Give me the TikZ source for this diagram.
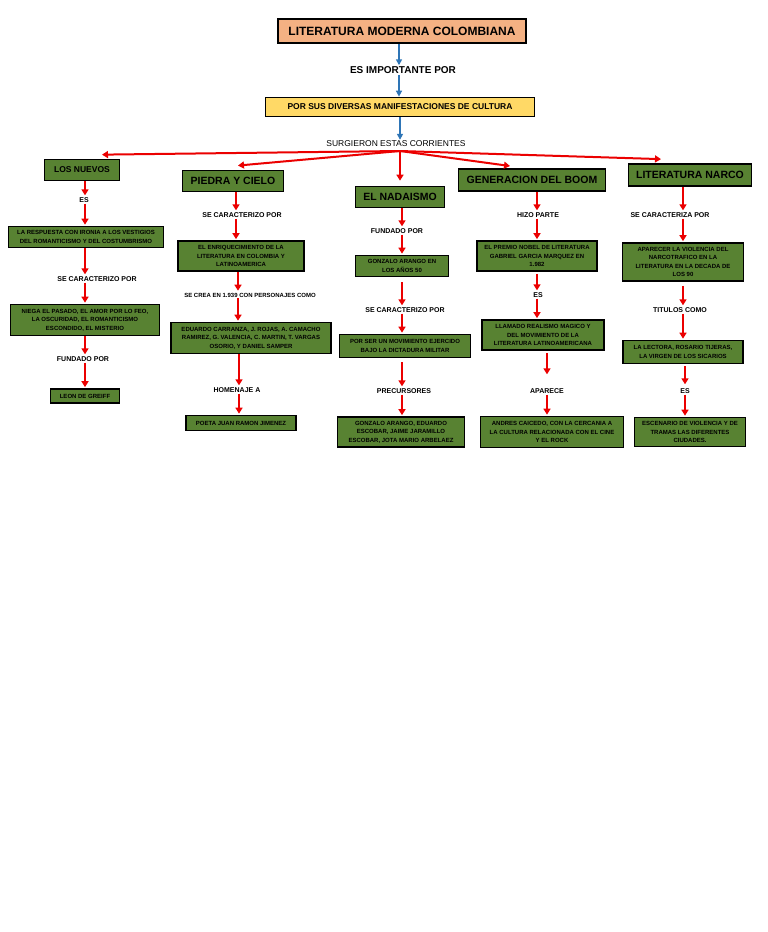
\documentclass[tikz,border=0pt]{standalone}
\usepackage{fontspec}
\setmainfont{Liberation Sans}
\usepackage{xcolor}
\usetikzlibrary{arrows.meta}

\definecolor{salmon}{RGB}{244,177,131}
\definecolor{amarillo}{RGB}{255,217,102}
\definecolor{verde}{RGB}{88,130,50}
\definecolor{azul}{RGB}{46,117,182}
\definecolor{rojo}{RGB}{235,0,0}

\tikzset{
  caja/.style={rectangle, draw=black, line width=1.7pt, inner sep=1pt, align=center},
  cajaverde/.style={caja, fill=verde, text=black, font=\fontsize{6}{8.5}\selectfont\bfseries},
  cabeza/.style={cajaverde, font=\fontsize{10.5}{12}\selectfont\bfseries},
  etiqueta/.style={inner sep=1pt, font=\fontsize{7}{8}\selectfont\bfseries},
  flecharoja/.style={draw=rojo, line width=2pt, -{Triangle[length=6pt,width=7pt]}, shorten >=1pt},
  flechaazul/.style={draw=azul, line width=1.6pt, -{Triangle[length=6pt,width=6pt]}},
}

\begin{document}
\begin{tikzpicture}[x=1pt,y=1pt]
\useasboundingbox (0,0) rectangle (768,-932);
\fill[white] (0,0) rectangle (768,-932);

% parte superior
\node[caja, fill=salmon, minimum width=248pt, minimum height=24pt,
      font=\fontsize{12}{14}\selectfont\bfseries] (titulo) at (402,-31)
      {LITERATURA MODERNA COLOMBIANA};
\node[etiqueta, font=\fontsize{10}{12}\selectfont\bfseries] (importante) at (403,-70) {ES IMPORTANTE POR};
\node[caja, fill=amarillo, minimum width=269pt, minimum height=19pt,
      font=\fontsize{8.5}{10}\selectfont\bfseries] (cultura) at (400,-107)
      {POR SUS DIVERSAS MANIFESTACIONES DE CULTURA};
\node[etiqueta, font=\fontsize{8.5}{10}\selectfont] (surgieron) at (396,-144) {SURGIERON ESTAS CORRIENTES};
\coordinate (centro) at (400,-151);

\draw[flechaazul] ([xshift=-3pt]titulo.south) -- ([xshift=-3pt]titulo.south |- importante.north);
\draw[flechaazul] ([xshift=-3pt]titulo.south |- importante.south) -- ([xshift=-3pt]titulo.south |- cultura.north);
\draw[flechaazul] (cultura.south) -- (cultura.south |- surgieron.north);

% corrientes
\node[cabeza, minimum width=75pt, minimum height=21pt, font=\fontsize{8.5}{10}\selectfont\bfseries] (nuevos) at (82,-170) {LOS NUEVOS};
\node[cabeza, minimum width=101pt, minimum height=21pt] (piedra) at (233,-181) {PIEDRA Y CIELO};
\node[cabeza, minimum width=89pt, minimum height=21pt] (nadaismo) at (400,-197) {EL NADAISMO};
\node[cabeza, minimum width=147pt, minimum height=22pt] (boom) at (532,-180) {GENERACION DEL BOOM};
\node[cabeza, minimum width=123pt, minimum height=22pt] (narco) at (690,-175) {LITERATURA NARCO};

\draw[flecharoja] (centro) -- ([xshift=19pt,yshift=4pt]nuevos.north);
\draw[flecharoja] (centro) -- ([xshift=4pt,yshift=4pt]piedra.north);
\draw[flecharoja] (centro) -- ([yshift=4pt]nadaismo.north);
\draw[flecharoja] (centro) -- ([xshift=-21pt,yshift=2pt]boom.north);
\draw[flecharoja] (centro) -- ([xshift=-28pt,yshift=4pt]narco.north);

% los nuevos
\node[etiqueta] (es1) at (84,-200) {ES};
\node[cajaverde, minimum width=155pt, minimum height=21pt] (respuesta) at (86,-237)
  {LA RESPUESTA CON IRONIA A LOS VESTIGIOS\\DEL ROMANTICISMO Y DEL COSTUMBRISMO};
\node[etiqueta] (caract1) at (97,-279) {SE CARACTERIZO POR};
\node[cajaverde, minimum width=149pt, minimum height=31pt] (niega) at (85,-320)
  {NIEGA EL PASADO, EL AMOR POR LO FEO,\\LA OSCURIDAD, EL ROMANTICISMO\\ESCONDIDO, EL MISTERIO};
\node[etiqueta] (fundado1) at (83,-359) {FUNDADO POR};
\node[cajaverde, minimum width=69pt, minimum height=14pt] (greiff) at (85,-396) {LEON DE GREIFF};

\draw[flecharoja] (greiff.north |- nuevos.south) -- (greiff.north |- es1.north);
\draw[flecharoja] (greiff.north |- es1.south) -- (greiff.north |- respuesta.north);
\draw[flecharoja] (greiff.north |- respuesta.south) -- (greiff.north |- caract1.north);
\draw[flecharoja] (greiff.north |- caract1.south) -- (greiff.north |- niega.north);
\draw[flecharoja] (greiff.north |- niega.south) -- (greiff.north |- fundado1.north);
\draw[flecharoja] (greiff.north |- fundado1.south) -- (greiff.north);

% piedra y cielo
\node[etiqueta] (caract2) at (242,-215) {SE CARACTERIZO POR};
\node[cajaverde, minimum width=126pt, minimum height=30pt] (enriquec) at (241,-256)
  {EL ENRIQUECIMIENTO DE LA\\LITERATURA EN COLOMBIA Y\\LATINOAMERICA};
\node[etiqueta, font=\fontsize{6}{7}\selectfont\bfseries] (crea) at (250,-295) {SE CREA EN 1.939 CON PERSONAJES COMO};
\node[cajaverde, minimum width=160pt, minimum height=31pt] (carranza) at (251,-338)
  {EDUARDO CARRANZA, J. ROJAS, A. CAMACHO\\RAMIREZ, G. VALENCIA, C. MARTIN, T. VARGAS\\OSORIO, Y DANIEL SAMPER};
\node[etiqueta] (homenaje) at (237,-390) {HOMENAJE A};
\node[cajaverde, minimum width=110pt, minimum height=15pt] (jimenez) at (241,-423) {POETA JUAN RAMON JIMENEZ};

\draw[flecharoja] ([xshift=3pt]piedra.south) -- ([xshift=3pt]piedra.south |- caract2.north);
\draw[flecharoja] ([xshift=3pt]piedra.south |- caract2.south) -- ([xshift=3pt]piedra.south |- enriquec.north);
\draw[flecharoja] ([xshift=-3pt]enriquec.south) -- ([xshift=-3pt]enriquec.south |- crea.north);
\draw[flecharoja] ([xshift=-3pt]enriquec.south |- crea.south) -- ([xshift=-3pt]enriquec.south |- carranza.north);
\draw[flecharoja] ([xshift=-12pt]carranza.south) -- ([xshift=-12pt]carranza.south |- homenaje.north);
\draw[flecharoja] ([xshift=-12pt]carranza.south |- homenaje.south) -- ([xshift=-12pt]carranza.south |- jimenez.north);

% el nadaismo
\node[etiqueta] (fundado3) at (397,-231) {FUNDADO POR};
\node[cajaverde, minimum width=93pt, minimum height=21pt] (gonzalo) at (402,-266)
  {GONZALO ARANGO EN\\LOS AÑOS 50};
\node[etiqueta] (caract3) at (405,-310) {SE CARACTERIZO POR};
\node[cajaverde, minimum width=131pt, minimum height=23pt] (dictadura) at (405,-346)
  {POR SER UN MOVIMIENTO EJERCIDO\\BAJO LA DICTADURA MILITAR};
\node[etiqueta] (precursores) at (404,-391) {PRECURSORES};
\node[cajaverde, minimum width=127pt, minimum height=30pt] (escobar) at (401,-432)
  {GONZALO ARANGO, EDUARDO\\ESCOBAR, JAIME JARAMILLO\\ESCOBAR, JOTA MARIO ARBELAEZ};

\draw[flecharoja] ([xshift=2pt]nadaismo.south) -- ([xshift=2pt]nadaismo.south |- fundado3.north);
\draw[flecharoja] ([xshift=2pt]nadaismo.south |- fundado3.south) -- ([xshift=2pt]nadaismo.south |- gonzalo.north);
\draw[flecharoja] ([yshift=-5pt]gonzalo.south) -- (gonzalo.south |- caract3.north);
\draw[flecharoja] (gonzalo.south |- caract3.south) -- (gonzalo.south |- dictadura.north);
\draw[flecharoja] ([yshift=-4pt]gonzalo.south |- dictadura.south) -- (gonzalo.south |- precursores.north);
\draw[flecharoja] (gonzalo.south |- precursores.south) -- (gonzalo.south |- escobar.north);

% generacion del boom
\node[etiqueta] (hizo) at (538,-215) {HIZO PARTE};
\node[cajaverde, minimum width=120pt, minimum height=30pt] (nobel) at (537,-256)
  {EL PREMIO NOBEL DE LITERATURA\\GABRIEL GARCIA MARQUEZ EN\\1.982};
\node[etiqueta] (es4) at (538,-295) {ES};
\node[cajaverde, minimum width=122pt, minimum height=30pt] (realismo) at (543,-335)
  {LLAMADO REALISMO MAGICO Y\\DEL MOVIMIENTO DE LA\\LITERATURA LATINOAMERICANA};
\node[etiqueta] (aparece) at (547,-391) {APARECE};
\node[cajaverde, minimum width=143pt, minimum height=31pt] (caicedo) at (552,-432)
  {ANDRES CAICEDO, CON LA CERCANIA A\\LA CULTURA RELACIONADA CON EL CINE\\Y EL ROCK};

\draw[flecharoja] (nobel.north |- boom.south) -- (nobel.north |- hizo.north);
\draw[flecharoja] (nobel.north |- hizo.south) -- (nobel.north);
\draw[flecharoja] ([yshift=-2pt]nobel.south) -- (nobel.south |- es4.north);
\draw[flecharoja] (nobel.south |- es4.south) -- (nobel.south |- realismo.north);
\draw[flecharoja] ([yshift=-2pt]aparece.north |- realismo.south) -- ([yshift=12pt]aparece.north);
\draw[flecharoja] (aparece.south) -- (aparece.south |- caicedo.north);

% literatura narco
\node[etiqueta] (caract5) at (670,-215) {SE CARACTERIZA POR};
\node[cajaverde, minimum width=121pt, minimum height=38pt] (violencia) at (683,-262)
  {APARECER LA VIOLENCIA DEL\\NARCOTRAFICO EN LA\\LITERATURA EN LA DECADA DE\\LOS 90};
\node[etiqueta] (titulos) at (680,-310) {TITULOS COMO};
\node[cajaverde, minimum width=120pt, minimum height=23pt] (lectora) at (683,-352)
  {LA LECTORA, ROSARIO TIJERAS,\\LA VIRGEN DE LOS SICARIOS};
\node[etiqueta] (es5) at (685,-391) {ES};
\node[cajaverde, minimum width=111pt, minimum height=29pt] (escenario) at (690,-432)
  {ESCENARIO DE VIOLENCIA Y DE\\TRAMAS LAS DIFERENTES\\CIUDADES.};

\draw[flecharoja] (violencia.north |- narco.south) -- (violencia.north |- caract5.north);
\draw[flecharoja] (violencia.north |- caract5.south) -- (violencia.north);
\draw[flecharoja] ([yshift=-4pt]violencia.south) -- (violencia.south |- titulos.north);
\draw[flecharoja] (violencia.south |- titulos.south) -- (lectora.north);
\draw[flecharoja] ([yshift=-2pt]es5.north |- lectora.south) -- ([yshift=2pt]es5.north);
\draw[flecharoja] (es5.south) -- (es5.south |- escenario.north);
\end{tikzpicture}
\end{document}
